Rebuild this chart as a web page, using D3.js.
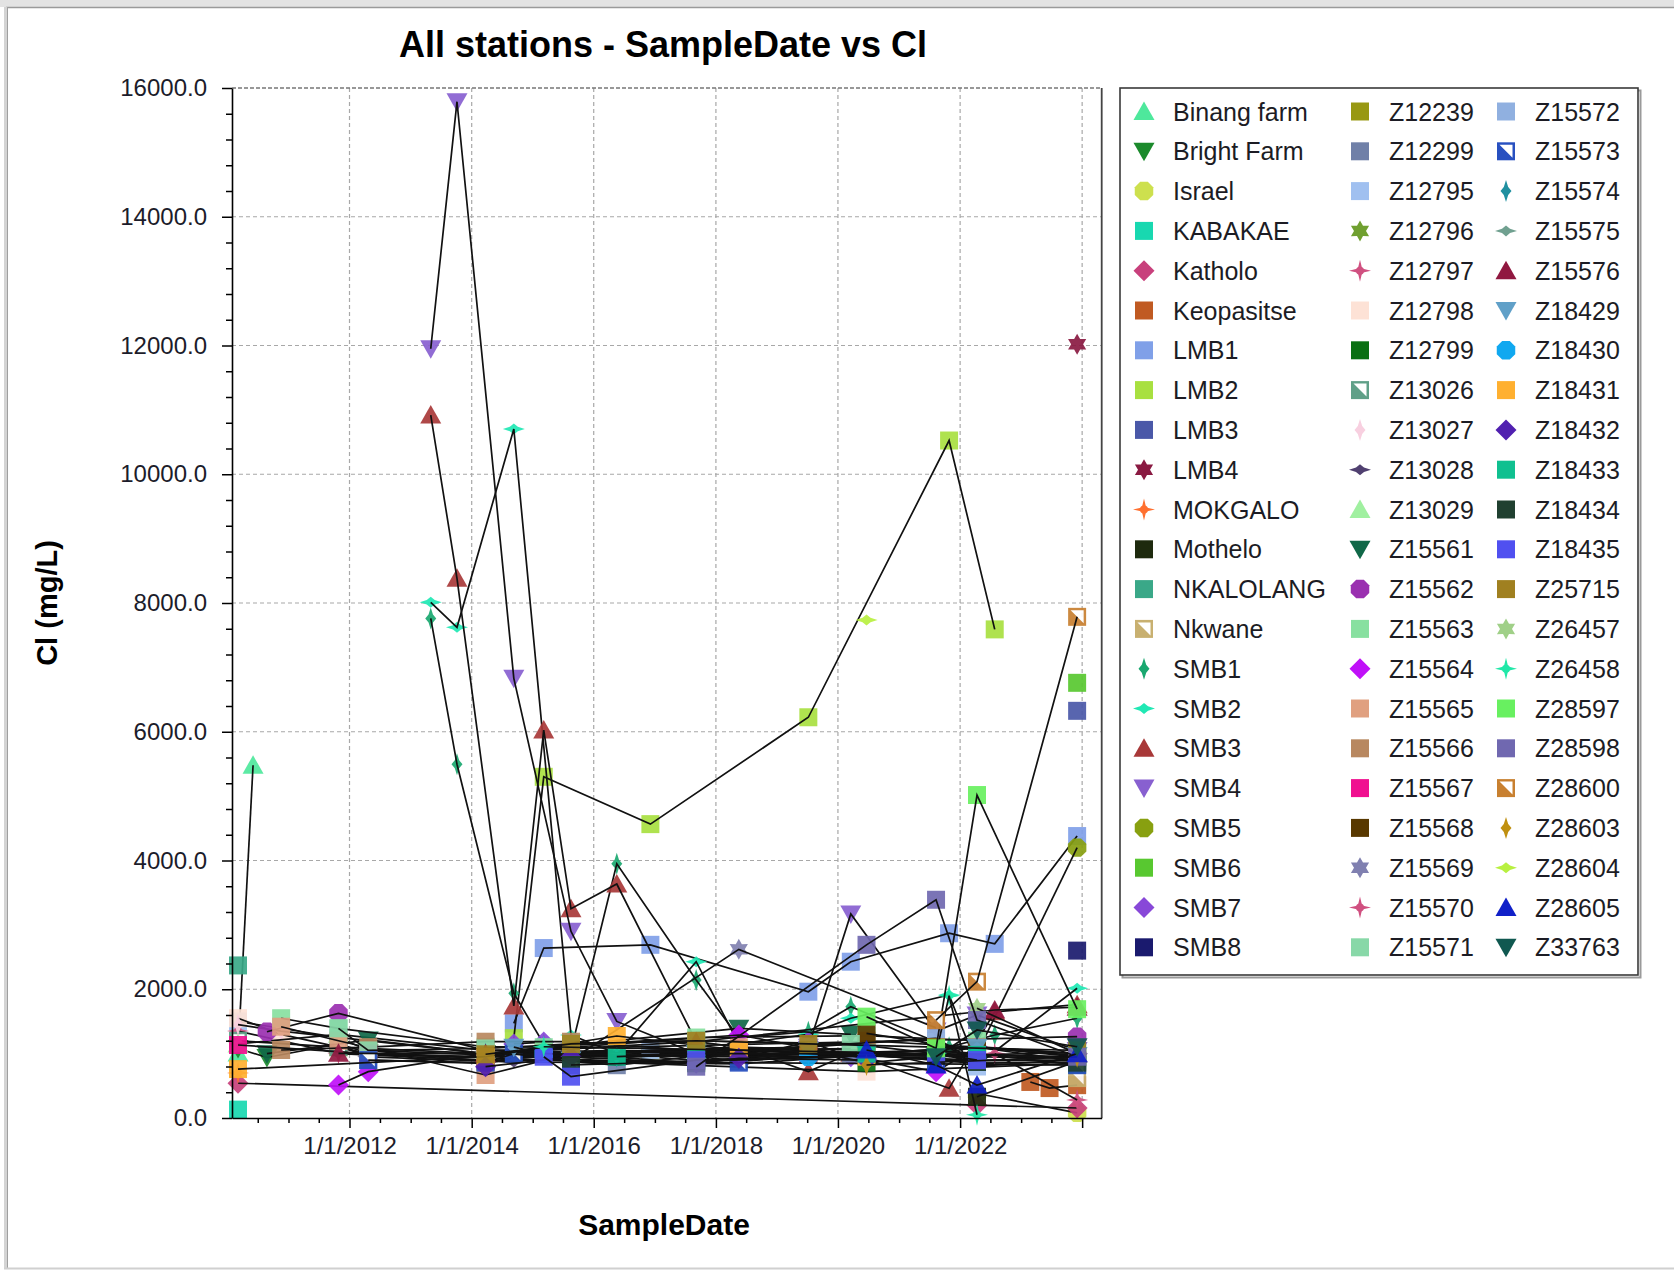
<!DOCTYPE html>
<html>
<head>
<meta charset="utf-8">
<script src="https://cdn.jsdelivr.net/npm/d3@7"></script>
<style>
  body { margin: 0; background: #fff; }
  svg { display: block; font-family: "Liberation Sans", Arial, sans-serif; }
</style>
</head>
<body>
<svg id="chart" width="1674" height="1271"></svg>
<script>
// ---- data -------------------------------------------------------------
const sampleDates = [
  "2010-03-05", "2010-06-03", "2010-08-25", "2010-11-18", "2011-10-27",
  "2012-04-22", "2013-05-01", "2013-10-05", "2014-03-25", "2014-09-10",
  "2015-03-08", "2015-08-18", "2016-05-18", "2016-12-05", "2017-09-05",
  "2018-05-18", "2019-07-08", "2020-03-18", "2020-06-20", "2021-08-10",
  "2021-10-27", "2022-04-12", "2022-07-27", "2023-02-25", "2023-06-20",
  "2023-12-02"
];

const stationNames = [
  "Binang farm", "Bright Farm", "Israel", "KABAKAE", "Katholo", "Keopasitse",
  "LMB1", "LMB2", "LMB3", "LMB4", "MOKGALO", "Mothelo", "NKALOLANG", "Nkwane",
  "SMB1", "SMB2", "SMB3", "SMB4", "SMB5", "SMB6", "SMB7", "SMB8",
  "Z12239", "Z12299", "Z12795", "Z12796", "Z12797", "Z12798", "Z12799", "Z13026",
  "Z13027", "Z13028", "Z13029", "Z15561", "Z15562", "Z15563", "Z15564", "Z15565",
  "Z15566", "Z15567", "Z15568", "Z15569", "Z15570", "Z15571",
  "Z15572", "Z15573", "Z15574", "Z15575", "Z15576", "Z18429", "Z18430", "Z18431",
  "Z18432", "Z18433", "Z18434", "Z18435", "Z25715", "Z26457", "Z26458", "Z28597",
  "Z28598", "Z28600", "Z28603", "Z28604", "Z28605", "Z33763"
];

const stationShapes = [
  "triUp", "triDown", "octagon", "square", "diamond", "square",
  "square", "square", "square", "star6", "sparkle", "square", "square", "half",
  "vdiamond", "hdiamond", "triUp", "triDown", "octagon", "square", "diamond", "square",
  "square", "square", "square", "star6", "sparkle", "square", "square", "half",
  "vdiamond", "hdiamond", "triUp", "triDown", "octagon", "square", "diamond", "square",
  "square", "square", "square", "star6", "sparkle", "square",
  "square", "half", "vdiamond", "hdiamond", "triUp", "triDown", "octagon", "square",
  "diamond", "square", "square", "square", "square", "star6", "sparkle", "square",
  "square", "half", "vdiamond", "hdiamond", "triUp", "triDown"
];

const stationColors = [
  "#4ee89c", "#1b8a2c", "#cde04e", "#18d8b0", "#c8407c", "#c05a22",
  "#80a0e8", "#a8e040", "#4a58a8", "#8a1a42", "#ff7030", "#1e2a0e", "#3aa888", "#c8b070",
  "#1aa870", "#20e8b4", "#a83838", "#8860d0", "#88a010", "#58c830", "#8848d8", "#1a1a6e",
  "#989812", "#7080a8", "#a0c0f0", "#70a030", "#d05080", "#fde2d6", "#0a7012", "#60a088",
  "#f8d0e0", "#504070", "#a0f0a0", "#106848", "#9a30b0", "#88e0a0", "#c010f8", "#e0a080",
  "#b88860", "#f01090", "#583800", "#8080b0", "#d05080", "#88d8a8",
  "#90b0e0", "#2850c0", "#2090a0", "#70a090", "#901840", "#60a0c8", "#10a8f0", "#ffb030",
  "#5020b0", "#10c090", "#204030", "#5050f0", "#a08020", "#a0d088", "#20e8a8", "#68f060",
  "#7068b0", "#c88030", "#c09010", "#b8f040", "#1020c8", "#105850"
];

// Cl readings per station: [index into sampleDates, Cl mg/L]
const clReadings = [
  [[0, 1010], [1, 5480]],
  [[0, 1080], [2, 940], [4, 1150], [5, 1010]],
  [[21, 380], [25, 80]],
  [[0, 130]],
  [[0, 540], [21, 200], [25, 155]],
  [[23, 560], [24, 465], [25, 510]],
  [[9, 1470], [10, 2640], [13, 2690], [16, 1962], [17, 2428], [20, 2870], [22, 2705], [25, 4380]],
  [[9, 1240], [10, 5300], [13, 4565], [16, 6225], [20, 10524], [22, 7590]],
  [[25, 6325]],
  [[25, 12020]],
  [[0, 700]],
  [[21, 330], [25, 880]],
  [[0, 2370]],
  [[25, 620]],
  [[6, 7760], [7, 5495], [9, 1937], [10, 1150], [11, 1050], [12, 3950], [14, 2144], [15, 1250], [16, 1340], [17, 1729], [20, 1100], [22, 1289], [25, 1550]],
  [[6, 8011], [7, 7622], [9, 10703], [11, 1289], [12, 1000], [14, 2428], [15, 1150], [16, 1300], [17, 1549], [20, 1910], [21, 823], [25, 2015]],
  [[6, 10920], [7, 8383], [9, 1740], [10, 6027], [11, 3250], [12, 3635], [14, 1185], [15, 1100], [16, 720], [17, 1005], [20, 461], [22, 1650], [25, 1760]],
  [[6, 11950], [7, 15787], [9, 6830], [11, 2900], [12, 1500], [14, 1000], [16, 1100], [17, 3170], [19, 1350], [21, 1600], [25, 1050]],
  [[21, 1000], [25, 4200]],
  [[25, 6760]],
  [[9, 1150], [10, 1180], [11, 1000], [12, 980], [14, 900], [15, 920], [16, 1185], [17, 950], [19, 1000], [21, 1100], [25, 880]],
  [[25, 2600]],
  [[4, 1100], [5, 980], [8, 950], [10, 1020], [11, 980], [13, 1000], [15, 1000], [16, 980], [19, 960], [25, 930]],
  [[4, 1180], [5, 900], [8, 850], [10, 1000], [11, 880], [12, 820], [14, 960], [15, 880], [17, 1000], [19, 900], [25, 900]],
  [[0, 1500], [4, 1250], [5, 1050], [8, 980], [11, 950], [13, 1050], [16, 1100], [19, 1240], [21, 800], [25, 920]],
  [[8, 1000], [12, 1050], [16, 980], [19, 1000], [25, 950]],
  [[0, 1350], [4, 1000], [8, 900], [14, 880], [16, 1000], [21, 900]],
  [[0, 1550], [3, 1300], [5, 1000], [18, 720], [25, 850]],
  [[5, 1050], [8, 880], [11, 1000], [14, 850], [16, 1050], [18, 860], [21, 1000], [25, 830]],
  [[0, 1200], [4, 1100], [8, 1000], [11, 980], [15, 960], [18, 1020]],
  [[0, 1450], [3, 1350], [8, 1000], [12, 1020], [16, 1000]],
  [[5, 950], [9, 870], [15, 840], [18, 980], [21, 850], [25, 870]],
  [[0, 1150], [4, 1300], [8, 1050], [11, 1030], [14, 1050], [17, 1080]],
  [[2, 1000], [5, 1212], [8, 1000], [15, 1393], [17, 1300]],
  [[2, 1340], [4, 1626], [8, 1050], [25, 1263]],
  [[3, 1550], [4, 1393], [8, 1107], [10, 1100], [14, 1250], [18, 1280], [21, 1200]],
  [[4, 513], [5, 720], [8, 1000], [15, 1289], [19, 720], [21, 1107], [25, 1000]],
  [[3, 1418], [4, 1200], [8, 668], [11, 1000], [15, 1100], [18, 1050]],
  [[3, 1056], [5, 1100], [8, 1185], [11, 1185], [15, 1000], [18, 1200], [21, 1100], [25, 950]],
  [[0, 1134], [5, 1000], [8, 950], [11, 950], [16, 1000], [21, 950]],
  [[18, 1315], [21, 1050]],
  [[11, 900], [15, 2620], [19, 1400]],
  [[22, 1000], [25, 280]],
  [[4, 1393], [5, 1050], [8, 1080], [11, 1150], [14, 1200], [17, 1150], [19, 1000], [25, 930]],
  [[11, 952], [14, 1000], [19, 1238], [21, 870]],
  [[5, 900], [8, 860], [9, 1000], [11, 880], [15, 860], [19, 840], [25, 820]],
  [[8, 1000], [12, 950], [14, 980], [16, 1000], [19, 1050], [21, 1000]],
  [[8, 1020], [11, 1000], [15, 1050], [18, 1000], [21, 1100], [25, 1000]],
  [[4, 1005], [8, 1000], [14, 1185], [22, 1678], [25, 1720]],
  [[9, 1100], [11, 900], [14, 1000], [16, 1050], [18, 1000], [21, 1100], [25, 970]],
  [[10, 1000], [14, 952], [16, 950], [19, 1000], [21, 950]],
  [[0, 760], [8, 952], [12, 1274], [15, 1056], [18, 952]],
  [[8, 797], [11, 950], [14, 850], [15, 927], [18, 900]],
  [[12, 952], [14, 1000], [18, 1000], [19, 1050], [21, 980], [25, 1020]],
  [[11, 823], [14, 880], [19, 1000], [21, 870], [25, 860]],
  [[10, 952], [11, 642], [14, 900], [19, 1000], [21, 900]],
  [[8, 990], [11, 1150], [14, 1200], [16, 1150], [19, 1100], [25, 1050]],
  [[21, 1704], [25, 1000]],
  [[10, 1107], [19, 1000], [20, 1900], [21, 50]],
  [[18, 1574], [19, 1082], [21, 5017], [25, 1690]],
  [[14, 797], [18, 2690], [19, 3390], [21, 1522], [25, 952]],
  [[19, 1520], [21, 2118], [25, 7785]],
  [[18, 823], [25, 950]],
  [[18, 7735]],
  [[18, 1056], [19, 823], [21, 513], [25, 1000]],
  [[19, 952], [21, 1367], [25, 1107]]
];

const yTicks = [0, 2000, 4000, 6000, 8000, 10000, 12000, 14000, 16000];
const xTickYears = [2012, 2014, 2016, 2018, 2020, 2022, 2024];
const xTickLabels = ["1/1/2012", "1/1/2014", "1/1/2016", "1/1/2018", "1/1/2020", "1/1/2022", ""];

// ---- layout -----------------------------------------------------------
const W = 1674, H = 1271;
const plot = { left: 232, right: 1101.7, top: 88, bottom: 1118 };
const svg = d3.select("#chart");

const x = d3.scaleUtc()
  .domain([new Date(Date.UTC(2010, 0, 28)), new Date(Date.UTC(2024, 3, 27))])
  .range([plot.left, plot.right]);
const y = d3.scaleLinear().domain([0, 16000]).range([plot.bottom, plot.top]);
const parseDate = d3.utcParse("%Y-%m-%d");
const dates = sampleDates.map(parseDate);

// window frame
svg.append("rect").attr("x", 0).attr("y", 0).attr("width", W).attr("height", 7).attr("fill", "#e3e3e3");
svg.append("line").attr("x1", 6).attr("x2", W).attr("y1", 7.5).attr("y2", 7.5).attr("stroke", "#9a9a9a").attr("stroke-width", 1.5);
svg.append("rect").attr("x", 4).attr("y", 7).attr("width", 3).attr("height", H - 9).attr("fill", "#d4d4d4");
svg.append("line").attr("x1", 7.5).attr("x2", 7.5).attr("y1", 7).attr("y2", H - 3).attr("stroke", "#a0a0a0").attr("stroke-width", 1);
svg.append("line").attr("x1", 4).attr("x2", W).attr("y1", H - 2.5).attr("y2", H - 2.5).attr("stroke", "#d0d0d0").attr("stroke-width", 2);

// grid
const grid = svg.append("g").attr("stroke", "#a8a8a8").attr("stroke-width", 1.2).attr("stroke-dasharray", "4,3").attr("fill", "none");
yTicks.filter(v => v > 0 && v < 16000).forEach(v => {
  grid.append("line").attr("x1", plot.left).attr("x2", plot.right).attr("y1", y(v)).attr("y2", y(v));
});
xTickYears.forEach(yr => {
  const px = x(new Date(Date.UTC(yr, 0, 1)));
  grid.append("line").attr("x1", px).attr("x2", px).attr("y1", plot.top).attr("y2", plot.bottom);
});
// top edge (dashed, darker) and right edge
svg.append("line").attr("x1", plot.left).attr("x2", plot.right).attr("y1", plot.top).attr("y2", plot.top)
  .attr("stroke", "#777").attr("stroke-width", 1.4).attr("stroke-dasharray", "4,2");
svg.append("line").attr("x1", plot.right).attr("x2", plot.right).attr("y1", plot.top).attr("y2", plot.bottom)
  .attr("stroke", "#444").attr("stroke-width", 1.8);

// ---- markers ----------------------------------------------------------
function polygon(pts) { return "M" + pts.map(p => p[0].toFixed(2) + "," + p[1].toFixed(2)).join("L") + "Z"; }
function starPts(n, ro, ri) {
  const pts = [];
  for (let k = 0; k < 2 * n; k++) {
    const a = -Math.PI / 2 + k * Math.PI / n;
    const r = k % 2 ? ri : ro;
    pts.push([r * Math.cos(a), r * Math.sin(a)]);
  }
  return pts;
}
function drawMarker(g, kind, color) {
  const s = 9;
  let d;
  switch (kind) {
    case "square": case "half": d = polygon([[-s, -s], [s, -s], [s, s], [-s, s]]); break;
    case "triUp": d = polygon([[0, -10], [10.5, 8.5], [-10.5, 8.5]]); break;
    case "triDown": d = polygon([[0, 10], [10.5, -8.5], [-10.5, -8.5]]); break;
    case "diamond": d = polygon([[0, -10.5], [10.5, 0], [0, 10.5], [-10.5, 0]]); break;
    case "vdiamond": d = polygon([[0, -11], [2.2, -4], [5.5, 0], [2.2, 4], [0, 11], [-2.2, 4], [-5.5, 0], [-2.2, -4]]); break;
    case "hdiamond": d = polygon([[-11, 0], [-4, -2.2], [0, -5.5], [4, -2.2], [11, 0], [4, 2.2], [0, 5.5], [-4, 2.2]]); break;
    case "octagon": d = polygon(d3.range(8).map(k => { const a = Math.PI / 8 + k * Math.PI / 4; return [10 * Math.cos(a), 10 * Math.sin(a)]; })); break;
    case "star6": d = polygon(starPts(6, 10.5, 6)); break;
    case "sparkle": d = polygon(starPts(4, 11, 3)); break;
  }
  g.append("path").attr("d", d).attr("fill", color);
  if (kind === "sparkle") g.append("circle").attr("r", 4).attr("fill", color);
  if (kind === "half") {
    g.append("path").attr("d", polygon([[-s + 2.5, -s + 2.5], [s - 2.5, -s + 2.5], [s - 2.5, s - 2.5]])).attr("fill", "#fff");
  }
}

// ---- series -------------------------------------------------------------
const line = d3.line().x(p => x(dates[p[0]])).y(p => y(p[1]));
const seriesLayer = svg.append("g");
stationNames.forEach((name, i) => {
  const pts = clReadings[i].slice().sort((a, b) => a[0] - b[0]);
  const g = seriesLayer.append("g").attr("class", "station");
  pts.forEach(p => {
    const m = g.append("g").attr("transform", `translate(${x(dates[p[0]])},${y(p[1])})`).attr("opacity", 0.92);
    drawMarker(m, stationShapes[i], stationColors[i]);
  });
  if (pts.length > 1) {
    g.append("path").attr("d", line(pts)).attr("fill", "none").attr("stroke", "#111").attr("stroke-width", 1.7);
  }
});

// ---- axes ---------------------------------------------------------------
const fmt = d3.format(".1f");
const yAxis = svg.append("g").attr("transform", `translate(${plot.left},0)`)
  .call(d3.axisLeft(y).tickValues(yTicks).tickFormat(fmt).tickSize(10).tickSizeOuter(0).tickPadding(15));
svg.append("g").attr("transform", `translate(${plot.left},0)`)
  .call(d3.axisLeft(y).tickValues(d3.range(400, 16000, 400).filter(v => v % 2000)).tickFormat("").tickSize(6).tickSizeOuter(0))
  .call(g => g.select(".domain").remove());

const majorDates = xTickYears.map(yr => new Date(Date.UTC(yr, 0, 1)));
const minorDates = d3.utcMonth.every(6).range(new Date(Date.UTC(2010, 5, 1)), new Date(Date.UTC(2024, 1, 1)))
  .filter(d => !(d.getUTCMonth() === 0 && d.getUTCFullYear() % 2 === 0));
const xAxis = svg.append("g").attr("transform", `translate(0,${plot.bottom})`)
  .call(d3.axisBottom(x).tickValues(majorDates).tickFormat((d, i) => xTickLabels[i]).tickSize(10).tickSizeOuter(0).tickPadding(9));
svg.append("g").attr("transform", `translate(0,${plot.bottom})`)
  .call(d3.axisBottom(x).tickValues(minorDates).tickFormat("").tickSize(5).tickSizeOuter(0))
  .call(g => g.select(".domain").remove());

[yAxis, xAxis].forEach(a => {
  a.select(".domain").attr("stroke", "#000").attr("stroke-width", 1.6);
  a.selectAll(".tick text").attr("font-size", 24).attr("fill", "#1c1c2a").attr("font-family", '"Liberation Sans", Arial, sans-serif');
});
svg.selectAll(".tick line").attr("stroke", "#000").attr("stroke-width", 1.5);

// ---- titles -------------------------------------------------------------
svg.append("text").attr("x", 663).attr("y", 57).attr("text-anchor", "middle")
  .attr("font-size", 36).attr("font-weight", "bold").attr("fill", "#000")
  .text("All stations - SampleDate vs Cl");
svg.append("text").attr("transform", "translate(57,603) rotate(-90)").attr("text-anchor", "middle")
  .attr("font-size", 29).attr("font-weight", "bold").attr("fill", "#000")
  .text("Cl (mg/L)");
svg.append("text").attr("x", 664).attr("y", 1235).attr("text-anchor", "middle")
  .attr("font-size", 30).attr("font-weight", "bold").attr("fill", "#000")
  .text("SampleDate");

// ---- legend -------------------------------------------------------------
const legendBox = { x: 1120, y: 88, w: 518, h: 887 };
svg.append("rect").attr("x", legendBox.x + 2.5).attr("y", legendBox.y + 2.5).attr("width", legendBox.w).attr("height", legendBox.h)
  .attr("fill", "none").attr("stroke", "#9a9a9a").attr("stroke-width", 2);
svg.append("rect").attr("x", legendBox.x).attr("y", legendBox.y).attr("width", legendBox.w).attr("height", legendBox.h)
  .attr("fill", "#fff").attr("stroke", "#3a3a3a").attr("stroke-width", 1.6);
const colMarkerX = [1144, 1360, 1506];
const colTextX = [1173, 1389, 1535];
const legend = svg.append("g");
stationNames.forEach((name, i) => {
  const col = Math.floor(i / 22), row = i % 22;
  const cy = 111.5 + row * 39.8;
  const m = legend.append("g").attr("transform", `translate(${colMarkerX[col]},${cy})`);
  drawMarker(m, stationShapes[i], stationColors[i]);
  legend.append("text").attr("x", colTextX[col]).attr("y", cy + 9)
    .attr("font-size", 25).attr("fill", "#1c1c24").text(name);
});
</script>
</body>
</html>
